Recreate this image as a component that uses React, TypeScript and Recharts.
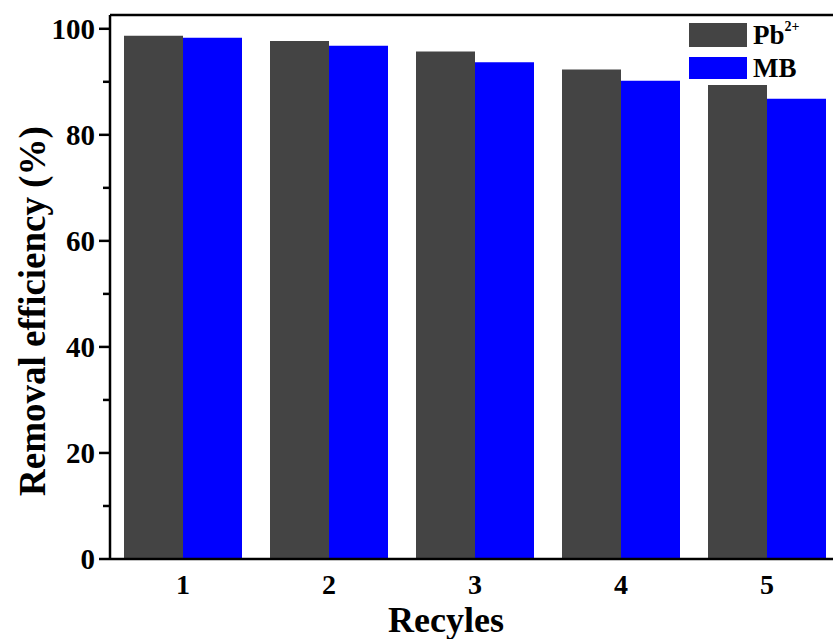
import { BarChart, Bar, XAxis, YAxis, Legend, Label, ReferenceLine } from 'recharts';

const recycles = ['1', '2', '3', '4', '5'];
const pbValues = [98.7, 97.7, 95.7, 92.3, 89.4];
const mbValues = [98.3, 96.8, 93.7, 90.2, 86.8];
const yTicks = [0, 10, 20, 30, 40, 50, 60, 70, 80, 90, 100];
const yMax = 102.6;

const data = recycles.map((r, i) => ({ cycle: r, pb: pbValues[i], mb: mbValues[i] }));

const FONT = '"Liberation Serif", "Times New Roman", serif';
const GRAY = '#444444';
const BLUE = '#0000ff';

const YTick = (props: any) => {
    const { x, y, payload } = props;
    const major = payload.value % 20 === 0;
    return (
        <g>
            <line x1={x - (major ? 11 : 7)} x2={x} y1={y} y2={y} stroke="#000" strokeWidth={2.5} />
            {major && (
                <text x={x - 15} y={y + 10} textAnchor="end" fontFamily={FONT} fontWeight="bold" fontSize={29} fill="#000">
                    {payload.value}
                </text>
            )}
        </g>
    );
};

const XTick = (props: any) => {
    const { x, y, payload } = props;
    return (
        <text x={x} y={y + 35} textAnchor="middle" fontFamily={FONT} fontWeight="bold" fontSize={28} fill="#000">
            {payload.value}
        </text>
    );
};

const LegendBox = () => (
    <div style={{ fontFamily: FONT, fontWeight: 'bold', color: '#000' }}>
        <div style={{ display: 'flex', alignItems: 'center', height: 24, marginBottom: 10 }}>
            <span style={{ width: 58, height: 24, background: GRAY, display: 'inline-block' }} />
            <span style={{ fontSize: 27, marginLeft: 6, lineHeight: '24px' }}>
                Pb<sup style={{ fontSize: 14, verticalAlign: 'top', position: 'relative', top: -8 }}>2+</sup>
            </span>
        </div>
        <div style={{ display: 'flex', alignItems: 'center', height: 22 }}>
            <span style={{ width: 58, height: 22, background: BLUE, display: 'inline-block' }} />
            <span style={{ fontSize: 27, marginLeft: 6, lineHeight: '22px' }}>MB</span>
        </div>
    </div>
);

export default function App() {
    return (
        <div style={{ position: 'absolute', left: 0, top: 0, width: 833, height: 639, overflow: 'hidden', background: '#fff' }}>
            <BarChart
                width={850}
                height={639}
                data={data}
                margin={{ top: 15, right: 10, left: 0, bottom: 0 }}
                barCategoryGap={14}
                barGap={0}
            >
                <XAxis
                    dataKey="cycle"
                    height={80}
                    tickLine={false}
                    tickSize={0}
                    tickMargin={0}
                    tick={<XTick />}
                    axisLine={{ stroke: '#000', strokeWidth: 2.5 }}
                >
                    <Label
                        content={(p: any) => {
                            const vb = p.viewBox;
                            return (
                                <text x={vb.x + vb.width / 2 - 29} y={vb.y + 73} textAnchor="middle" fontFamily={FONT} fontWeight="bold" fontSize={36} fill="#000">
                                    Recyles
                                </text>
                            );
                        }}
                    />
                </XAxis>
                <YAxis
                    width={110}
                    domain={[0, yMax]}
                    ticks={yTicks}
                    interval={0}
                    tickLine={false}
                    tickSize={0}
                    tickMargin={0}
                    tick={<YTick />}
                    axisLine={{ stroke: '#000', strokeWidth: 2.5 }}
                    allowDataOverflow
                >
                    <Label
                        content={(p: any) => {
                            const vb = p.viewBox;
                            const cy = vb.y + vb.height / 2 + 24;
                            return (
                                <text x={45} y={cy} transform={`rotate(-90 45 ${cy})`} textAnchor="middle" fontFamily={FONT} fontWeight="bold" fontSize={37} fill="#000">
                                    Removal efficiency (%)
                                </text>
                            );
                        }}
                    />
                </YAxis>
                <ReferenceLine y={yMax} stroke="#000" strokeWidth={2.5} ifOverflow="visible" />
                <Legend
                    verticalAlign="middle"
                    align="center"
                    content={<LegendBox />}
                    wrapperStyle={{ top: 23, left: 689, width: 140 }}
                />
                <Bar dataKey="pb" name="Pb2+" fill={GRAY} isAnimationActive={false} />
                <Bar dataKey="mb" name="MB" fill={BLUE} isAnimationActive={false} />
            </BarChart>
        </div>
    );
}
